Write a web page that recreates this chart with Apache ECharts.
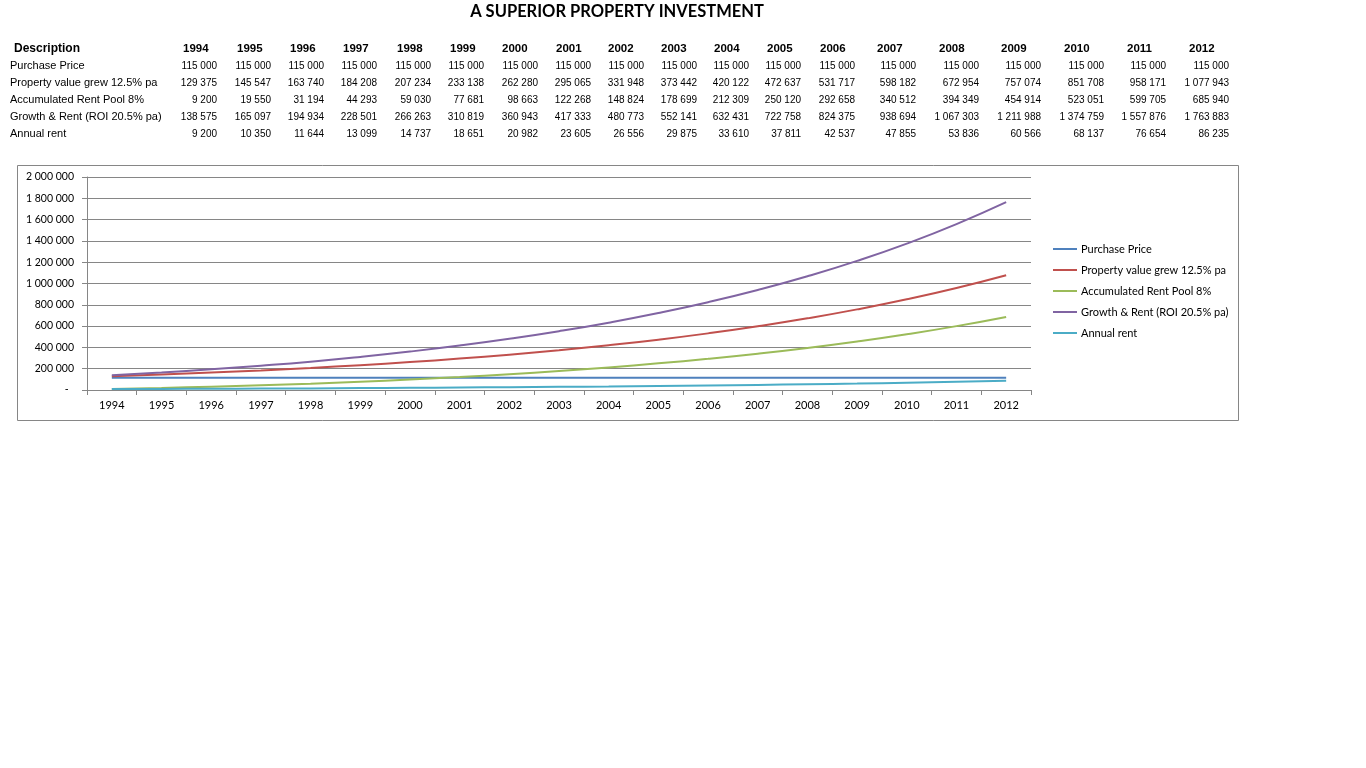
<!DOCTYPE html>
<html>
<head>
<meta charset="utf-8">
<title>A Superior Property Investment</title>
<script src="https://cdn.jsdelivr.net/npm/echarts@6/dist/echarts.min.js"></script>
<style>
  html, body { margin: 0; padding: 0; background: #fff; }
  #chart { width: 1366px; height: 768px; }
</style>
</head>
<body>
<div id="chart"></div>
<script>
// data
const years = ["1994", "1995", "1996", "1997", "1998", "1999", "2000", "2001", "2002", "2003",
  "2004", "2005", "2006", "2007", "2008", "2009", "2010", "2011", "2012"];

const purchasePrice = [115000, 115000, 115000, 115000, 115000, 115000, 115000, 115000, 115000, 115000,
  115000, 115000, 115000, 115000, 115000, 115000, 115000, 115000, 115000];
const propertyValue = [129375, 145547, 163740, 184208, 207234, 233138, 262280, 295065, 331948, 373442,
  420122, 472637, 531717, 598182, 672954, 757074, 851708, 958171, 1077943];
const rentPool = [9200, 19550, 31194, 44293, 59030, 77681, 98663, 122268, 148824, 178699,
  212309, 250120, 292658, 340512, 394349, 454914, 523051, 599705, 685940];
const growthRent = [138575, 165097, 194934, 228501, 266263, 310819, 360943, 417333, 480773, 552141,
  632431, 722758, 824375, 938694, 1067303, 1211988, 1374759, 1557876, 1763883];
const annualRent = [9200, 10350, 11644, 13099, 14737, 18651, 20982, 23605, 26556, 29875,
  33610, 37811, 42537, 47855, 53836, 60566, 68137, 76654, 86235];

const seriesNames = ["Purchase Price", "Property value grew 12.5% pa", "Accumulated Rent Pool 8%",
  "Growth & Rent (ROI 20.5% pa)", "Annual rent"];
const seriesValues = [purchasePrice, propertyValue, rentPool, growthRent, annualRent];
const colors = ["#4F81BD", "#C0504D", "#9BBB59", "#8064A2", "#4BACC6"];

// table column layout (pixels)
const headerLeft = [183, 237, 290, 343, 397, 450, 502, 556, 608, 661, 714, 767, 820, 877, 939, 1001, 1064, 1127, 1189];
const valueRight = [217, 271, 324, 377, 431, 484, 538, 591, 644, 697, 749, 801, 855, 916, 979, 1041, 1104, 1166, 1229];
const rowY = [65, 82, 99, 116, 133];

function fmt(v) {
  return String(Math.round(v)).replace(/\B(?=(\d{3})+(?!\d))/g, " ");
}

const tableFont = "Liberation Sans, Arial, sans-serif";
const graphics = [];

graphics.push({
  type: "text", x: 617, y: 12,
  style: { text: "A SUPERIOR PROPERTY INVESTMENT", font: "bold 16.5px Lato, sans-serif", fill: "#000",
    align: "center", verticalAlign: "middle" }
});

graphics.push({
  type: "text", x: 14, y: 49,
  style: { text: "Description", font: "bold 12px " + tableFont, fill: "#000", verticalAlign: "middle" }
});
years.forEach(function (y, i) {
  graphics.push({
    type: "text", x: headerLeft[i], y: 49,
    style: { text: y, font: "bold 11.5px " + tableFont, fill: "#000", verticalAlign: "middle" }
  });
});
seriesNames.forEach(function (name, r) {
  graphics.push({
    type: "text", x: 10, y: rowY[r] + 1,
    style: { text: name, font: "11px " + tableFont, fill: "#000", verticalAlign: "middle" }
  });
  seriesValues[r].forEach(function (v, i) {
    graphics.push({
      type: "text", x: valueRight[i], y: rowY[r] + 1,
      style: { text: fmt(v), font: "10px " + tableFont, fill: "#000", align: "right", verticalAlign: "middle" }
    });
  });
});

// chart frame
graphics.push({
  type: "rect", z: -1,
  shape: { x: 17.5, y: 165.5, width: 1221, height: 255 },
  style: { fill: "#fff", stroke: "#868686", lineWidth: 1 }
});

const chart = echarts.init(document.getElementById("chart"));
chart.setOption({
  animation: false,
  color: colors,
  graphic: graphics,
  grid: { left: 87, right: 335, top: 177, bottom: 378, containLabel: false },
  legend: {
    orient: "vertical",
    left: 1048,
    top: 237,
    icon: "rect",
    itemWidth: 24,
    itemHeight: 2,
    itemGap: 7,
    textStyle: { fontFamily: "Lato, sans-serif", fontSize: 11, color: "#000", lineHeight: 14, padding: [0, 0, 0, -1] },
    data: seriesNames
  },
  xAxis: {
    type: "category",
    data: years,
    boundaryGap: true,
    axisLine: { lineStyle: { color: "#868686" } },
    axisTick: { show: true, length: 5, alignWithLabel: false, lineStyle: { color: "#868686" } },
    axisLabel: { fontFamily: "Lato, sans-serif", fontSize: 11, color: "#000", margin: 10, interval: 0 }
  },
  yAxis: {
    type: "value",
    min: 0,
    max: 2000000,
    interval: 200000,
    axisLine: { show: true, lineStyle: { color: "#868686" } },
    axisTick: { show: true, length: 5, lineStyle: { color: "#868686" } },
    splitLine: { lineStyle: { color: "#868686" } },
    axisLabel: {
      fontFamily: "Lato, sans-serif", fontSize: 10.5, color: "#000", margin: 13,
      formatter: function (v) { return v === 0 ? "-  " : fmt(v); }
    }
  },
  series: seriesNames.map(function (name, i) {
    return {
      name: name,
      type: "line",
      data: seriesValues[i],
      symbol: "none",
      smooth: true,
      lineStyle: { width: 2 }
    };
  })
});
</script>
</body>
</html>
